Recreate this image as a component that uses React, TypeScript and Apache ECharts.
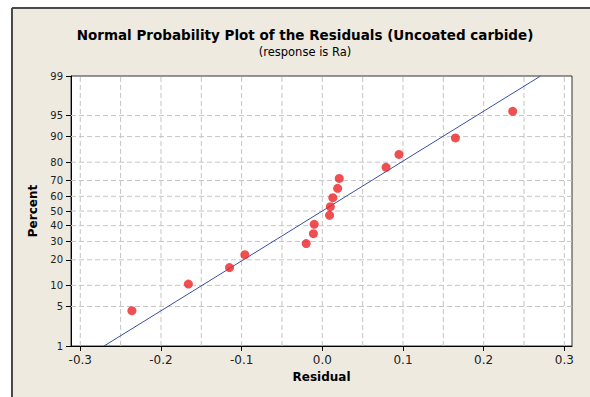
import React, { useEffect, useRef } from "react";
import * as echarts from "echarts";

// ---- Data ----
const residuals = [
  -0.236, -0.166, -0.115, -0.096, -0.020, -0.011, -0.010, 0.009,
  0.010, 0.013, 0.019, 0.021, 0.079, 0.095, 0.165, 0.236,
];
const percents = [
  4.3, 10.4, 16.5, 22.6, 28.7, 34.8, 40.9, 47.0,
  53.0, 59.1, 65.2, 71.3, 77.4, 83.5, 89.6, 95.7,
];
const yTickPercents = [1, 5, 10, 20, 30, 40, 50, 60, 70, 80, 90, 95, 99];
const yGridPercents = [5, 10, 20, 30, 40, 50, 60, 70, 80, 90, 95];
const xTicks = [-0.3, -0.2, -0.1, 0.0, 0.1, 0.2, 0.3];
const xTickLabels = ["-0.3", "-0.2", "-0.1", "0.0", "0.1", "0.2", "0.3"];
const xGrid = [-0.3, -0.25, -0.2, -0.15, -0.1, -0.05, 0, 0.05, 0.1, 0.15, 0.2, 0.25, 0.3];
const fitMean = 0.0;
const fitStdDev = 0.1163;
const xMin = -0.3115;
const xMax = 0.3095;

// inverse standard normal CDF (Acklam)
function normInv(p: number): number {
  const a = [-3.969683028665376e1, 2.209460984245205e2, -2.759285104469687e2, 1.38357751867269e2, -3.066479806614716e1, 2.506628277459239];
  const b = [-5.447609879822406e1, 1.615858368580409e2, -1.556989798598866e2, 6.680131188771972e1, -1.328068155288572e1];
  const c = [-7.784894002430293e-3, -3.223964580411365e-1, -2.400758277161838, -2.549732539343734, 4.374664141464968, 2.938163982698783];
  const d = [7.784695709041462e-3, 3.224671290700398e-1, 2.445134137142996, 3.754408661907416];
  const pl = 0.02425;
  let q: number, r: number;
  if (p < pl) {
    q = Math.sqrt(-2 * Math.log(p));
    return (((((c[0] * q + c[1]) * q + c[2]) * q + c[3]) * q + c[4]) * q + c[5]) / ((((d[0] * q + d[1]) * q + d[2]) * q + d[3]) * q + 1);
  }
  if (p > 1 - pl) {
    q = Math.sqrt(-2 * Math.log(1 - p));
    return -(((((c[0] * q + c[1]) * q + c[2]) * q + c[3]) * q + c[4]) * q + c[5]) / ((((d[0] * q + d[1]) * q + d[2]) * q + d[3]) * q + 1);
  }
  q = p - 0.5;
  r = q * q;
  return ((((((a[0] * r + a[1]) * r + a[2]) * r + a[3]) * r + a[4]) * r + a[5]) * q) / (((((b[0] * r + b[1]) * r + b[2]) * r + b[3]) * r + b[4]) * r + 1);
}

const zOf = (pct: number) => normInv(pct / 100);
const yTicksZ = yTickPercents.map(zOf);
const zMin = zOf(yTickPercents[0]);
const zMax = zOf(yTickPercents[yTickPercents.length - 1]);

const FONT = "DejaVu Sans";

export default function App() {
  const ref = useRef<HTMLDivElement>(null);
  useEffect(() => {
    document.body.style.margin = "0";
    const chart = echarts.init(ref.current!, undefined, { renderer: "svg" });
    const points = residuals.map((r, i) => [r, zOf(percents[i])]);
    const fitLine = [
      [fitMean + fitStdDev * zMin, zMin],
      [fitMean + fitStdDev * zMax, zMax],
    ];
    const dashStyle = { stroke: "#c4c4c4", lineWidth: 1, lineDash: [5, 3] };
    chart.setOption({
      animation: false,
      backgroundColor: "#EEEAE0",
      graphic: [
        { type: "rect", shape: { x: 0, y: 0, width: 590, height: 7 }, style: { fill: "#fff" }, silent: true },
        { type: "rect", shape: { x: 0, y: 0, width: 11, height: 397 }, style: { fill: "#fff" }, silent: true },
        { type: "line", shape: { x1: 12, y1: 8, x2: 590, y2: 8 }, style: { stroke: "#4a4a4a", lineWidth: 2 }, silent: true },
        { type: "line", shape: { x1: 12, y1: 8, x2: 12, y2: 397 }, style: { stroke: "#4a4a4a", lineWidth: 2 }, silent: true },
        {
          type: "text", x: 305, y: 35,
          style: { text: "Normal Probability Plot of the Residuals (Uncoated carbide)", fontFamily: FONT, fontWeight: "bold", fontSize: 13.5, fill: "#000", textAlign: "center", textVerticalAlign: "middle" },
        },
        {
          type: "text", x: 305, y: 52,
          style: { text: "(response is Ra)", fontFamily: FONT, fontSize: 11.5, fill: "#000", textAlign: "center", textVerticalAlign: "middle" },
        },
      ],
      grid: {
        left: 71, top: 76, right: 18, bottom: 51,
        show: true, backgroundColor: "#fff", borderColor: "#333", borderWidth: 1,
      },
      xAxis: {
        type: "value", min: xMin, max: xMax,
        name: "Residual", nameLocation: "middle", nameGap: 25,
        nameTextStyle: { fontFamily: FONT, fontWeight: "bold", fontSize: 12, color: "#000" },
        axisLine: { show: true, onZero: false, lineStyle: { color: "#000", width: 1 } },
        axisTick: { show: true, length: 5, customValues: xTicks, lineStyle: { color: "#000" } },
        axisLabel: {
          customValues: xTicks, margin: 8, fontFamily: FONT, fontSize: 12, color: "#222",
          formatter: (v: number) => {
            let best = 0;
            xTicks.forEach((t, i) => { if (Math.abs(t - v) < Math.abs(xTicks[best] - v)) best = i; });
            return xTickLabels[best];
          },
        },
        splitLine: { show: false },
      },
      yAxis: {
        type: "value", min: zMin, max: zMax,
        name: "Percent", nameLocation: "middle", nameGap: 28, nameRotate: 90,
        nameTextStyle: { fontFamily: FONT, fontWeight: "bold", fontSize: 12, color: "#000" },
        axisLine: { show: true, onZero: false, lineStyle: { color: "#000", width: 1 } },
        axisTick: { show: true, length: 5, customValues: yTicksZ, lineStyle: { color: "#000" } },
        axisLabel: {
          customValues: yTicksZ, margin: 8, fontFamily: FONT, fontSize: 10, color: "#222",
          formatter: (v: number) => {
            let best = 0;
            yTicksZ.forEach((t, i) => { if (Math.abs(t - v) < Math.abs(yTicksZ[best] - v)) best = i; });
            return String(yTickPercents[best]);
          },
        },
        splitLine: { show: false },
      },
      series: [
        {
          type: "custom", silent: true, z: 1,
          data: xGrid.map((v) => [v]),
          renderItem: (params: any, api: any) => {
            const x = api.value(0);
            const p1 = api.coord([x, zMin]);
            const p2 = api.coord([x, zMax]);
            return { type: "line", shape: { x1: p1[0], y1: p1[1], x2: p2[0], y2: p2[1] }, style: dashStyle };
          },
        },
        {
          type: "custom", silent: true, z: 1,
          data: yGridPercents.map((p) => [xMin, zOf(p)]),
          renderItem: (params: any, api: any) => {
            const z = api.value(1);
            const p1 = api.coord([xMin, z]);
            const p2 = api.coord([xMax, z]);
            return { type: "line", shape: { x1: p1[0], y1: p1[1], x2: p2[0], y2: p2[1] }, style: dashStyle };
          },
        },
        {
          type: "line", data: fitLine, symbol: "none", z: 2,
          lineStyle: { color: "#3a4ea6", width: 1 },
        },
        {
          type: "scatter", data: points, symbol: "circle", symbolSize: 9, z: 3,
          itemStyle: { color: "#EC2327" },
        },
      ],
    });
    return () => chart.dispose();
  }, []);
  return <div ref={ref} style={{ width: 590, height: 397 }} />;
}
